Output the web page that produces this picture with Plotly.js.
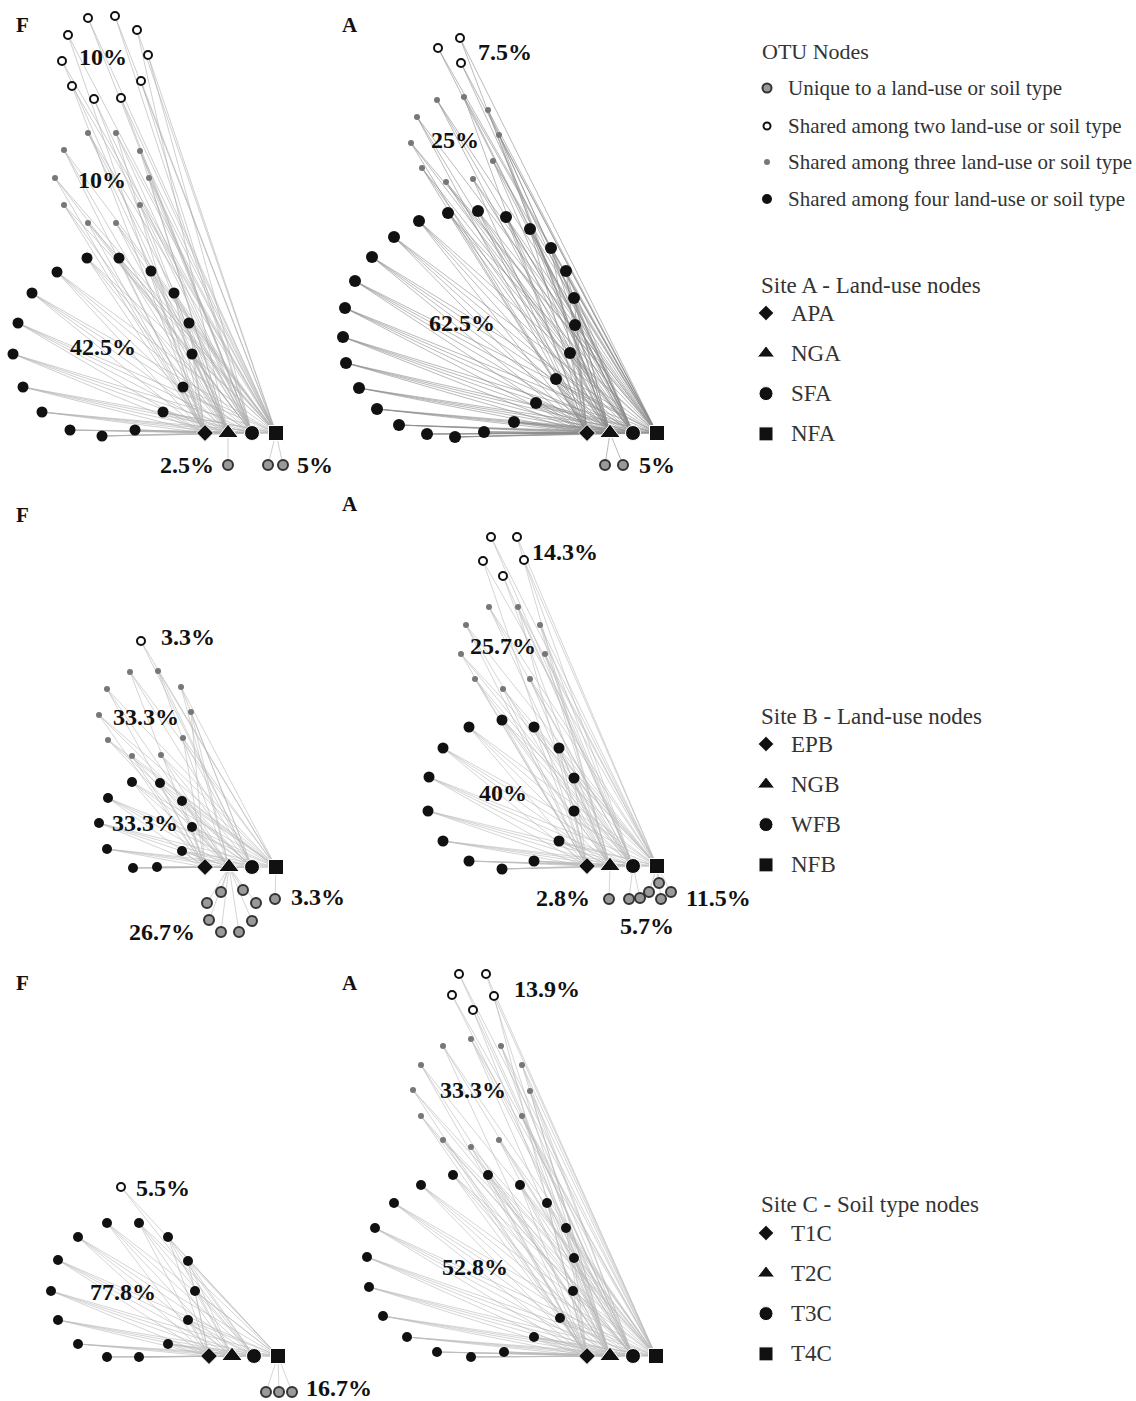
<!DOCTYPE html>
<html><head><meta charset="utf-8">
<script src="https://cdn.plot.ly/plotly-3.0.1.min.js"></script>
<style>html,body{margin:0;padding:0;background:#fff}#chart{width:1136px;height:1401px}</style>
</head><body><div id="chart"></div>
<script>
// ---------- DATA ----------
// Hub (land-use / soil type) node names
const siteA_hubs = ["APA","NGA","SFA","NFA"];
const siteB_hubs = ["EPB","NGB","WFB","NFB"];
const siteC_hubs = ["T1C","T2C","T3C","T4C"];
const otuLegend = ["Unique to a land-use or soil type","Shared among two land-use or soil type","Shared among three land-use or soil type","Shared among four land-use or soil type"];

// Panel 1: Site A, F
const p1_hub_x = [205,228,252,276], p1_hub_y = 433;
const p1_two_x = [88,115,137,68,148,62,141,72,94,121];
const p1_two_y = [18,16,30,35,55,61,81,86,99,98];
const p1_two_h = ["23","23","13","03","23","13","23","03","12","23"];
const p1_three_x = [88,116,64,140,55,149,64,140,88,116];
const p1_three_y = [133,133,150,151,178,178,205,205,223,223];
const p1_three_h = ["123","023","013","123","023","123","013","123","023","123"];
const p1_four_x = [87,119,57,151,32,174,18,189,13,192,23,183,42,163,70,102,135];
const p1_four_y = [258,258,272,271,293,293,323,323,354,354,387,387,412,412,430,436,430];
const p1_uni_x = [228,268,283], p1_uni_y = [465,465,465], p1_uni_h = [1,3,3];
const p1_labels = ["F","10%","10%","42.5%","2.5%","5%"];
const p1_lab_x = [22,103,102,103,187,315], p1_lab_y = [25,57,180,347,465,465];

// Panel 2: Site A, A
const p2_hub_x = [587,610,633,657], p2_hub_y = 433;
const p2_two_x = [438,460,461], p2_two_y = [48,38,63], p2_two_h = ["23","13","23"];
const p2_three_x = [437,464,488,417,499,411,493,422,446,473];
const p2_three_y = [100,97,110,117,135,143,161,168,182,179];
const p2_three_h = ["123","023","123","013","123","023","123","012","123","023"];
const p2_four_x = [448,478,419,506,394,530,372,551,355,566,345,574,343,575,346,570,359,556,377,536,399,514,427,455,484];
const p2_four_y = [213,211,221,217,237,229,257,248,281,271,308,298,337,325,363,353,388,379,409,403,425,422,434,437,432];
const p2_uni_x = [605,623], p2_uni_y = [465,465], p2_uni_h = [1,1];
const p2_labels = ["A","7.5%","25%","62.5%","5%"];
const p2_lab_x = [350,505,455,462,657], p2_lab_y = [25,52,140,323,465];

// Panel 3: Site B, F
const p3_hub_x = [205,229,252,276], p3_hub_y = 867;
const p3_two_x = [141], p3_two_y = [641], p3_two_h = ["23"];
const p3_three_x = [130,158,107,181,99,191,108,183,132,161];
const p3_three_y = [672,671,689,687,715,712,740,738,756,755];
const p3_three_h = ["023","123","013","123","023","012","123","023","013","123"];
const p3_four_x = [132,160,108,182,99,192,107,182,133,157];
const p3_four_y = [782,783,798,801,823,827,849,851,868,867];
const p3_uni_x = [221,243,207,256,209,252,221,239,275];
const p3_uni_y = [892,890,903,903,920,921,932,932,899];
const p3_uni_h = [1,1,1,1,1,1,1,1,3];
const p3_labels = ["F","3.3%","33.3%","33.3%","26.7%","3.3%"];
const p3_lab_x = [22,188,146,145,162,318], p3_lab_y = [515,637,717,823,932,897];

// Panel 4: Site B, A
const p4_hub_x = [587,610,633,657], p4_hub_y = 866;
const p4_two_x = [491,517,483,524,503], p4_two_y = [537,537,561,560,576];
const p4_two_h = ["23","13","03","23","12"];
const p4_three_x = [489,518,466,540,461,545,475,530,503];
const p4_three_y = [607,607,625,625,654,654,679,679,689];
const p4_three_h = ["123","023","013","123","023","123","012","123","023"];
const p4_four_x = [502,469,534,443,559,429,574,428,574,443,559,469,502,534];
const p4_four_y = [720,727,727,748,748,777,778,811,811,841,841,861,869,861];
const p4_uni_x = [609,629,640,649,659,661,671];
const p4_uni_y = [899,899,898,892,883,899,892];
const p4_uni_h = [1,2,2,3,3,3,3];
const p4_labels = ["A","14.3%","25.7%","40%","2.8%","5.7%","11.5%"];
const p4_lab_x = [350,565,503,503,563,647,718], p4_lab_y = [504,552,646,793,898,926,898];

// Panel 5: Site C, F
const p5_hub_x = [209,232,254,278], p5_hub_y = 1356;
const p5_two_x = [121], p5_two_y = [1187], p5_two_h = ["23"];
const p5_three_x = [], p5_three_y = [], p5_three_h = [];
const p5_four_x = [107,139,78,168,58,188,51,195,58,188,78,168,107,139];
const p5_four_y = [1223,1223,1237,1237,1260,1261,1291,1291,1320,1320,1344,1344,1357,1357];
const p5_uni_x = [266,279,292], p5_uni_y = [1392,1392,1392], p5_uni_h = [3,3,3];
const p5_labels = ["F","5.5%","77.8%","16.7%"];
const p5_lab_x = [22,163,123,339], p5_lab_y = [983,1188,1292,1388];

// Panel 6: Site C, A
const p6_hub_x = [587,610,633,656], p6_hub_y = 1356;
const p6_two_x = [459,486,452,494,473], p6_two_y = [974,974,995,996,1010];
const p6_two_h = ["23","13","23","03","12"];
const p6_three_x = [471,443,501,421,522,413,530,421,522,443,471,499];
const p6_three_y = [1039,1046,1046,1065,1065,1090,1091,1116,1116,1140,1147,1140];
const p6_three_h = ["123","023","123","013","123","023","123","012","123","023","013","123"];
const p6_four_x = [453,488,421,520,394,547,375,566,367,574,369,573,383,560,407,534,437,471,504];
const p6_four_y = [1175,1175,1185,1185,1203,1203,1228,1228,1257,1258,1287,1291,1316,1318,1337,1337,1352,1357,1352];
const p6_uni_x = [], p6_uni_y = [], p6_uni_h = [];
const p6_labels = ["A","13.9%","33.3%","52.8%"];
const p6_lab_x = [350,547,473,475], p6_lab_y = [983,989,1090,1267];

// ---------- BUILD ----------
const panels = [
 {hx:p1_hub_x,hy:p1_hub_y,tx:p1_two_x,ty:p1_two_y,th:p1_two_h,sx:p1_three_x,sy:p1_three_y,sh:p1_three_h,fx:p1_four_x,fy:p1_four_y,ux:p1_uni_x,uy:p1_uni_y,uh:p1_uni_h,lt:p1_labels,lx:p1_lab_x,ly:p1_lab_y,fs:11,ec:'rgba(175,175,175,0.6)'},
 {hx:p2_hub_x,hy:p2_hub_y,tx:p2_two_x,ty:p2_two_y,th:p2_two_h,sx:p2_three_x,sy:p2_three_y,sh:p2_three_h,fx:p2_four_x,fy:p2_four_y,ux:p2_uni_x,uy:p2_uni_y,uh:p2_uni_h,lt:p2_labels,lx:p2_lab_x,ly:p2_lab_y,fs:12,ec:'rgba(140,140,140,0.6)'},
 {hx:p3_hub_x,hy:p3_hub_y,tx:p3_two_x,ty:p3_two_y,th:p3_two_h,sx:p3_three_x,sy:p3_three_y,sh:p3_three_h,fx:p3_four_x,fy:p3_four_y,ux:p3_uni_x,uy:p3_uni_y,uh:p3_uni_h,lt:p3_labels,lx:p3_lab_x,ly:p3_lab_y,fs:10,ec:'rgba(185,185,185,0.6)'},
 {hx:p4_hub_x,hy:p4_hub_y,tx:p4_two_x,ty:p4_two_y,th:p4_two_h,sx:p4_three_x,sy:p4_three_y,sh:p4_three_h,fx:p4_four_x,fy:p4_four_y,ux:p4_uni_x,uy:p4_uni_y,uh:p4_uni_h,lt:p4_labels,lx:p4_lab_x,ly:p4_lab_y,fs:11,ec:'rgba(185,185,185,0.6)'},
 {hx:p5_hub_x,hy:p5_hub_y,tx:p5_two_x,ty:p5_two_y,th:p5_two_h,sx:p5_three_x,sy:p5_three_y,sh:p5_three_h,fx:p5_four_x,fy:p5_four_y,ux:p5_uni_x,uy:p5_uni_y,uh:p5_uni_h,lt:p5_labels,lx:p5_lab_x,ly:p5_lab_y,fs:10,ec:'rgba(185,185,185,0.6)'},
 {hx:p6_hub_x,hy:p6_hub_y,tx:p6_two_x,ty:p6_two_y,th:p6_two_h,sx:p6_three_x,sy:p6_three_y,sh:p6_three_h,fx:p6_four_x,fy:p6_four_y,ux:p6_uni_x,uy:p6_uni_y,uh:p6_uni_h,lt:p6_labels,lx:p6_lab_x,ly:p6_lab_y,fs:10,ec:'rgba(185,185,185,0.6)'}
];

const HUB_SYM = ['diamond','triangle-up','circle','square'];
const HUB_SIZE = [13,18,15,15];
const SERIF = '"Liberation Serif", "Times New Roman", serif';

const edgeTraces = [], nodeTraces = [], annotations = [];

function edgeTrace(x, y, hubs, p){
  const ex = [], ey = [];
  hubs.forEach(h => { ex.push(x, p.hx[h], null); ey.push(y, p.hy, null); });
  return {type:'scatter', mode:'lines', x:ex, y:ey, hoverinfo:'skip',
          line:{color:p.ec, width:1}};
}

panels.forEach(p => {
  p.tx.forEach((x,i) => edgeTraces.push(edgeTrace(x, p.ty[i], p.th[i].split('').map(Number), p)));
  p.sx.forEach((x,i) => edgeTraces.push(edgeTrace(x, p.sy[i], p.sh[i].split('').map(Number), p)));
  p.fx.forEach((x,i) => edgeTraces.push(edgeTrace(x, p.fy[i], [0,1,2,3], p)));
  p.ux.forEach((x,i) => edgeTraces.push(edgeTrace(x, p.uy[i], [p.uh[i]], p)));

  // OTU nodes
  nodeTraces.push({type:'scatter', mode:'markers', x:p.fx, y:p.fy, hoverinfo:'skip',
    marker:{symbol:'circle', size:p.fs, color:'#111', opacity:1}});
  nodeTraces.push({type:'scatter', mode:'markers', x:p.sx, y:p.sy, hoverinfo:'skip',
    marker:{symbol:'circle', size:6, color:'#777', opacity:1}});
  nodeTraces.push({type:'scatter', mode:'markers', x:p.tx, y:p.ty, hoverinfo:'skip',
    marker:{symbol:'circle', size:8, color:'#fff', opacity:1, line:{color:'#111', width:2}}});
  nodeTraces.push({type:'scatter', mode:'markers', x:p.ux, y:p.uy, hoverinfo:'skip',
    marker:{symbol:'circle', size:10, color:'#999', opacity:1, line:{color:'#333', width:2}}});
  // hub nodes
  nodeTraces.push({type:'scatter', mode:'markers', x:p.hx, y:p.hx.map(() => p.hy), hoverinfo:'skip',
    marker:{symbol:HUB_SYM, size:HUB_SIZE, color:'#111', opacity:1}});

  p.lt.forEach((t,i) => {
    const isLetter = (t === 'F' || t === 'A');
    annotations.push({x:p.lx[i], y:p.ly[i], text:'<b>'+t+'</b>', showarrow:false,
      xanchor:'center', yanchor:'middle',
      font:{family:SERIF, size:isLetter?21:24, color:'#111'}});
  });
});

// ---------- LEGENDS ----------
const legTraces = [];
annotations.push({x:760, y:51, text:'OTU Nodes', showarrow:false, xanchor:'left', yanchor:'middle',
  font:{family:SERIF, size:22, color:'#333'}});
const otuY = [88,126,162,199];
const otuStyles = [
  {size:9, color:'#999', line:{color:'#333', width:2}},
  {size:7, color:'#fff', line:{color:'#111', width:2}},
  {size:6, color:'#777'},
  {size:10, color:'#111'}
];
otuLegend.forEach((t,i) => {
  legTraces.push({type:'scatter', mode:'markers', x:[767], y:[otuY[i]], hoverinfo:'skip',
    marker:Object.assign({symbol:'circle', opacity:1}, otuStyles[i])});
  annotations.push({x:786, y:otuY[i], text:t, showarrow:false, xanchor:'left', yanchor:'middle',
    font:{family:SERIF, size:21, color:'#333'}});
});

const siteLegends = [
  {title:'Site A - Land-use nodes', names:siteA_hubs, ty:285, y0:313},
  {title:'Site B - Land-use nodes', names:siteB_hubs, ty:716, y0:744},
  {title:'Site C - Soil type nodes', names:siteC_hubs, ty:1204, y0:1233}
];
const LEG_SIZE = [12,15,14,14];
siteLegends.forEach(s => {
  annotations.push({x:759, y:s.ty, text:s.title, showarrow:false, xanchor:'left', yanchor:'middle',
    font:{family:SERIF, size:23, color:'#333'}});
  const ys = s.names.map((_,i) => s.y0 + i*40.3);
  legTraces.push({type:'scatter', mode:'markers', x:s.names.map(() => 766), y:ys, hoverinfo:'skip',
    marker:{symbol:HUB_SYM, size:LEG_SIZE, color:'#111', opacity:1}});
  s.names.forEach((n,i) => annotations.push({x:789, y:ys[i], text:n, showarrow:false,
    xanchor:'left', yanchor:'middle', font:{family:SERIF, size:23, color:'#333'}}));
});

const layout = {
  width:1136, height:1401, margin:{l:0,r:0,t:0,b:0},
  paper_bgcolor:'#fff', plot_bgcolor:'#fff', showlegend:false,
  xaxis:{range:[0,1136], visible:false, fixedrange:true},
  yaxis:{range:[1401,0], visible:false, fixedrange:true},
  annotations:annotations
};

Plotly.newPlot('chart', edgeTraces.concat(nodeTraces, legTraces), layout, {staticPlot:true, displayModeBar:false});
</script></body></html>
